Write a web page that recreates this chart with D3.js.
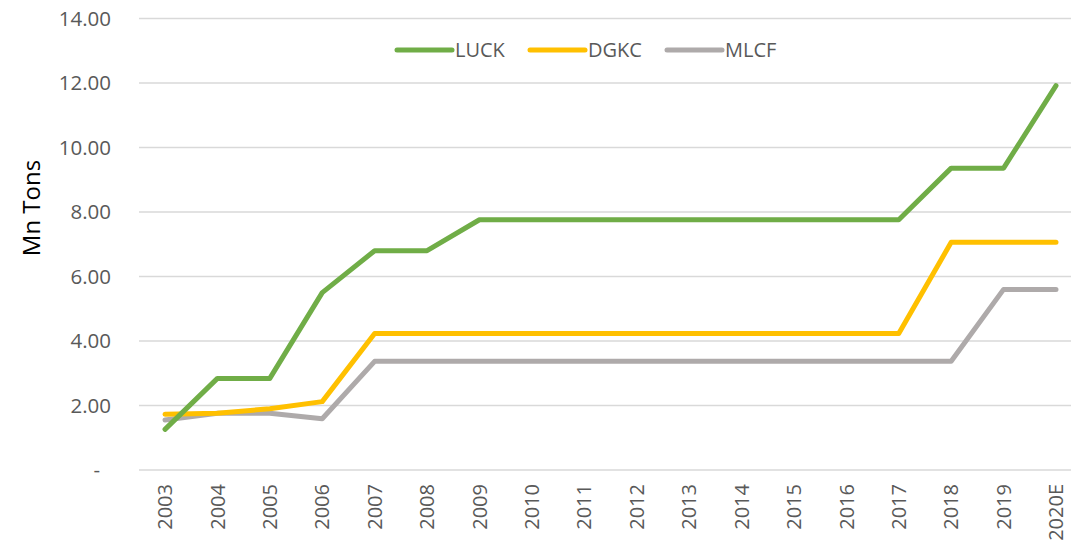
<!DOCTYPE html>
<html>
<head>
<meta charset="utf-8">
<script src="https://cdn.jsdelivr.net/npm/d3@7"></script>
<style>
  body { margin: 0; background: #fff; }
  svg { display: block; font-family: "Open Sans", "Liberation Sans", sans-serif; }
</style>
</head>
<body>
<script>
'use strict';

var years = ['2003','2004','2005','2006','2007','2008','2009','2010','2011','2012',
             '2013','2014','2015','2016','2017','2018','2019','2020E'];
var luck = [1.26, 2.84, 2.84, 5.5, 6.8, 6.8, 7.76, 7.76, 7.76, 7.76, 7.76, 7.76, 7.76, 7.76, 7.76, 9.36, 9.36, 11.92];
var dgkc = [1.73, 1.76, 1.9, 2.12, 4.23, 4.23, 4.23, 4.23, 4.23, 4.23, 4.23, 4.23, 4.23, 4.23, 4.23, 7.06, 7.06, 7.06];
var mlcf = [1.55, 1.76, 1.76, 1.59, 3.37, 3.37, 3.37, 3.37, 3.37, 3.37, 3.37, 3.37, 3.37, 3.37, 3.37, 3.37, 5.6, 5.6];
var seriesNames = ['LUCK', 'DGKC', 'MLCF'];
var seriesColors = ['#70AD47', '#FFC000', '#AEAAAA'];
var yTicks = [0, 2, 4, 6, 8, 10, 12, 14];

var width = 1071;
var height = 546;

var svg = d3.select('body')
            .append('svg')
            .attr('width', width)
            .attr('height', height);

var x = d3.scalePoint()
          .domain(years)
          .range([165, 1056]);

var y = d3.scaleLinear()
          .domain([0, 14])
          .range([470, 18.5]);

// horizontal gridlines
svg.append('g')
   .selectAll('line')
   .data(yTicks)
   .enter()
   .append('line')
   .attr('x1', 139)
   .attr('x2', width)
   .attr('y1', d => y(d))
   .attr('y2', d => y(d))
   .attr('stroke', '#D9D9D9')
   .attr('stroke-width', 1.3);

// y labels
svg.append('g')
   .selectAll('text')
   .data(yTicks)
   .enter()
   .append('text')
   .attr('x', d => d === 0 ? 100 : 111)
   .attr('y', d => y(d))
   .attr('dy', '0.36em')
   .attr('text-anchor', 'end')
   .attr('fill', '#595959')
   .style('font-size', '20.5px')
   .text(d => d === 0 ? '-' : d.toFixed(2));

// x labels
svg.append('g')
   .selectAll('text')
   .data(years)
   .enter()
   .append('text')
   .attr('transform', d => 'translate(' + x(d) + ',484) rotate(-90)')
   .attr('dy', '0.36em')
   .attr('text-anchor', 'end')
   .attr('fill', '#595959')
   .style('font-size', '20px')
   .text(d => d);

svg.append('text')
   .attr('transform', 'translate(31,208) rotate(-90)')
   .attr('dy', '0.36em')
   .attr('text-anchor', 'middle')
   .attr('fill', '#000')
   .style('font-size', '24px')
   .text('Mn Tons');

var line = d3.line()
             .x((d, i) => x(years[i]))
             .y(d => y(d));

var allSeries = [luck, dgkc, mlcf];
// gray first so green ends on top
[2, 1, 0].forEach(function(k) {
    svg.append('path')
       .datum(allSeries[k])
       .attr('fill', 'none')
       .attr('stroke', seriesColors[k])
       .attr('stroke-width', 5)
       .attr('stroke-linejoin', 'round')
       .attr('stroke-linecap', 'round')
       .attr('d', line);
});

// legend
var legendX = [397, 530, 667];
var legend = svg.append('g');
seriesNames.forEach(function(name, i) {
    legend.append('line')
          .attr('x1', legendX[i])
          .attr('x2', legendX[i] + 55)
          .attr('y1', 50)
          .attr('y2', 50)
          .attr('stroke', seriesColors[i])
          .attr('stroke-width', 5)
          .attr('stroke-linecap', 'round');
    legend.append('text')
          .attr('x', legendX[i] + 58)
          .attr('y', 50)
          .attr('dy', '0.36em')
          .attr('fill', '#595959')
          .style('font-size', '20px')
          .text(name);
});
</script>
</body>
</html>
